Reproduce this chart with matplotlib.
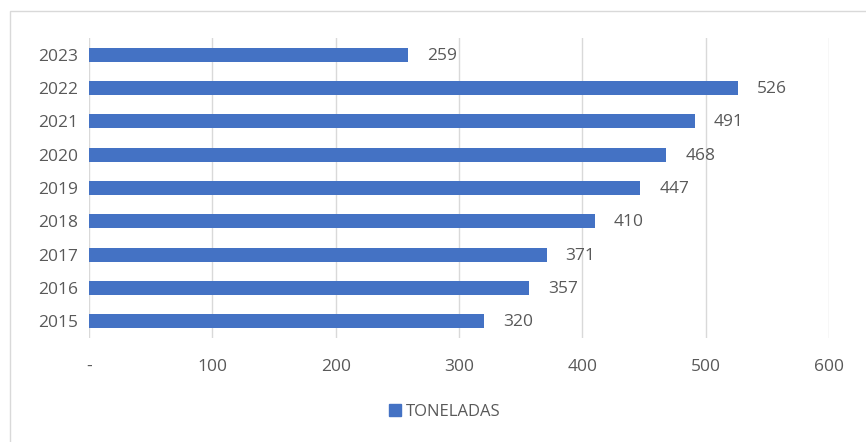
import matplotlib.pyplot as plt
from matplotlib.patches import Rectangle, Patch

years = ['2015', '2016', '2017', '2018', '2019', '2020', '2021', '2022', '2023']
toneladas = [320, 357, 371, 410, 447, 468, 491, 526, 259]
x_ticks = [0, 100, 200, 300, 400, 500, 600]
x_labels = ['-', '100', '200', '300', '400', '500', '600']

bar_color = '#4472C4'
text_color = '#595959'

plt.rcParams['font.family'] = ['Open Sans', 'DejaVu Sans']

fig = plt.figure(figsize=(8.66, 4.42), dpi=100)
ax = fig.add_axes([0.1028, 0.2353, 0.8545, 0.6787])

ypos = range(len(years))
ax.barh(ypos, toneladas, height=0.42, color=bar_color, zorder=3)
for y, v in zip(ypos, toneladas):
    ax.annotate(str(v), (v, y), xytext=(19, -1), textcoords='offset pixels',
                va='center', ha='left', fontsize=12.5, color=text_color)

ax.set_xlim(0, 600)
ax.set_ylim(-0.5, len(years) - 0.5)
ax.set_yticks(list(ypos))
ax.set_yticklabels(years)
ax.set_xticks(x_ticks)
ax.set_xticklabels(x_labels)
ax.tick_params(axis='both', length=0, labelsize=12.5, labelcolor=text_color)
ax.tick_params(axis='x', pad=15)
ax.tick_params(axis='y', pad=8)
ax.grid(axis='x', color='#d9d9d9', linewidth=1, zorder=0)
for s in ax.spines.values():
    s.set_visible(False)

fig.legend(handles=[Patch(color=bar_color, label='TONELADAS')],
           loc='center', bbox_to_anchor=(0.514, 0.068), frameon=False,
           fontsize=12, handlelength=0.7, handleheight=0.7, handletextpad=0.3,
           labelcolor=text_color)

fig.patches.append(Rectangle((10 / 866, -0.01), 1.0, 1 - 11 / 442 + 0.01,
                             transform=fig.transFigure, fill=False,
                             edgecolor='#d9d9d9', linewidth=1))

fig.savefig('out.png', dpi=100)
